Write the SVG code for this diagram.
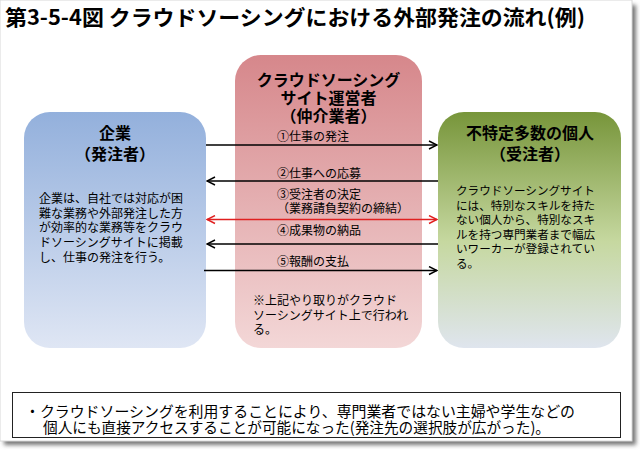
<svg xmlns="http://www.w3.org/2000/svg" width="640" height="450" viewBox="0 0 640 450">
<defs>
<style>
text{font-family:"Noto Sans CJK JP","Noto Sans",sans-serif;fill:#000}
.ttl{font-size:16px;font-weight:bold}
.body{font-size:12px}
.lbl{font-size:12px}
.con{stroke:#000;stroke-width:1.3;fill:none}
.red{stroke:#e02020}
</style>
<linearGradient id="gBlue" x1="0" y1="0" x2="0" y2="1"><stop offset="0" stop-color="#93b0dc"/><stop offset="1" stop-color="#dfe6f4"/></linearGradient>
<linearGradient id="gPink" x1="0" y1="0" x2="0" y2="1"><stop offset="0" stop-color="#d6878b"/><stop offset="1" stop-color="#f3d7d7"/></linearGradient>
<linearGradient id="gGreen" x1="0" y1="0" x2="0" y2="1"><stop offset="0" stop-color="#77953a"/><stop offset="0.55" stop-color="#c6d8a0"/><stop offset="1" stop-color="#dfe5ee"/></linearGradient>
<filter id="sh" x="-5%" y="-5%" width="110%" height="110%"><feGaussianBlur stdDeviation="2"/></filter>
<marker id="ah" viewBox="0 0 10 10" refX="9" refY="5" markerWidth="10" markerHeight="10" markerUnits="userSpaceOnUse" orient="auto-start-reverse"><path d="M1,1 L9,5 L1,9" fill="none" stroke="#000" stroke-width="1.4"/></marker>
<marker id="ahr" viewBox="0 0 10 10" refX="9" refY="5" markerWidth="10" markerHeight="10" markerUnits="userSpaceOnUse" orient="auto-start-reverse"><path d="M1,1 L9,5 L1,9" fill="none" stroke="#e02020" stroke-width="1.4"/></marker>
</defs>
<rect width="640" height="450" fill="#ffffff"/>
<rect x="4" y="5" width="632" height="440" fill="#777" filter="url(#sh)"/>
<rect x="0" y="0" width="632" height="441" fill="#ffffff" stroke="#d8d8d8" stroke-width="1"/>
<text x="5" y="25" font-size="21" font-weight="bold" textLength="580" lengthAdjust="spacingAndGlyphs">第3-5-4図 クラウドソーシングにおける外部発注の流れ(例)</text>

<g id="node-middle">
<rect x="235" y="55" width="187" height="293" rx="26" fill="url(#gPink)"/>
<text class="ttl" text-anchor="middle"><tspan x="328.5" y="86">クラウドソーシング</tspan><tspan x="328.5" y="104">サイト運営者</tspan><tspan x="328.5" y="122">（仲介業者）</tspan></text>
<text class="body"><tspan x="253" y="305">※上記やり取りがクラウド</tspan><tspan x="253" y="320">ソーシングサイト上で行われ</tspan><tspan x="253" y="334">る。</tspan></text>
</g>

<g id="node-left">
<rect x="24" y="112" width="182" height="236" rx="26" fill="url(#gBlue)"/>
<text class="ttl" text-anchor="middle"><tspan x="115" y="139">企業</tspan><tspan x="115" y="160">（発注者）</tspan></text>
<text class="body"><tspan x="39" y="203">企業は、自社では対応が困</tspan><tspan x="39" y="218">難な業務や外部発注した方</tspan><tspan x="39" y="232">が効率的な業務等をクラウ</tspan><tspan x="39" y="247">ドソーシングサイトに掲載</tspan><tspan x="39" y="262">し、仕事の発注を行う。</tspan></text>
</g>

<g id="node-right">
<rect x="438" y="112" width="183" height="236" rx="26" fill="url(#gGreen)"/>
<text class="ttl" text-anchor="middle"><tspan x="530" y="139">不特定多数の個人</tspan><tspan x="530" y="160">（受注者）</tspan></text>
<text class="body" style="font-size:11.6px"><tspan x="456" y="195">クラウドソーシングサイト</tspan><tspan x="456" y="209.5">には、特別なスキルを持た</tspan><tspan x="456" y="224">ない個人から、特別なスキ</tspan><tspan x="456" y="238.5">ルを持つ専門業者まで幅広</tspan><tspan x="456" y="253">いワーカーが登録されてい</tspan><tspan x="456" y="267.5">る。</tspan></text>
</g>

<g id="connectors">
<line class="con" x1="206" y1="145" x2="437" y2="145" marker-end="url(#ah)"/>
<line class="con" x1="438" y1="181" x2="207" y2="181" marker-end="url(#ah)"/>
<line class="con red" x1="207" y1="219.5" x2="437" y2="219.5" marker-start="url(#ahr)" marker-end="url(#ahr)"/>
<line class="con" x1="438" y1="244" x2="207" y2="244" marker-end="url(#ah)"/>
<line class="con" x1="204" y1="270.5" x2="437" y2="270.5" marker-end="url(#ah)"/>
<text class="lbl" x="277" y="141">①仕事の発注</text>
<text class="lbl" x="277" y="178">②仕事への応募</text>
<text class="lbl"><tspan x="277" y="199">③受注者の決定</tspan><tspan x="277" y="213">（業務請負契約の締結）</tspan></text>
<text class="lbl" x="277" y="235">④成果物の納品</text>
<text class="lbl" x="277" y="266">⑤報酬の支払</text>
</g>

<g id="note-box">
<rect x="12.5" y="392.5" width="608" height="45" fill="#ffffff" stroke="#222" stroke-width="1"/>
<text font-size="15"><tspan x="25" y="417" textLength="550" lengthAdjust="spacingAndGlyphs">・クラウドソーシングを利用することにより、専門業者ではない主婦や学生などの</tspan><tspan x="43" y="433" textLength="507" lengthAdjust="spacingAndGlyphs">個人にも直接アクセスすることが可能になった(発注先の選択肢が広がった)。</tspan></text>
</g>
</svg>
